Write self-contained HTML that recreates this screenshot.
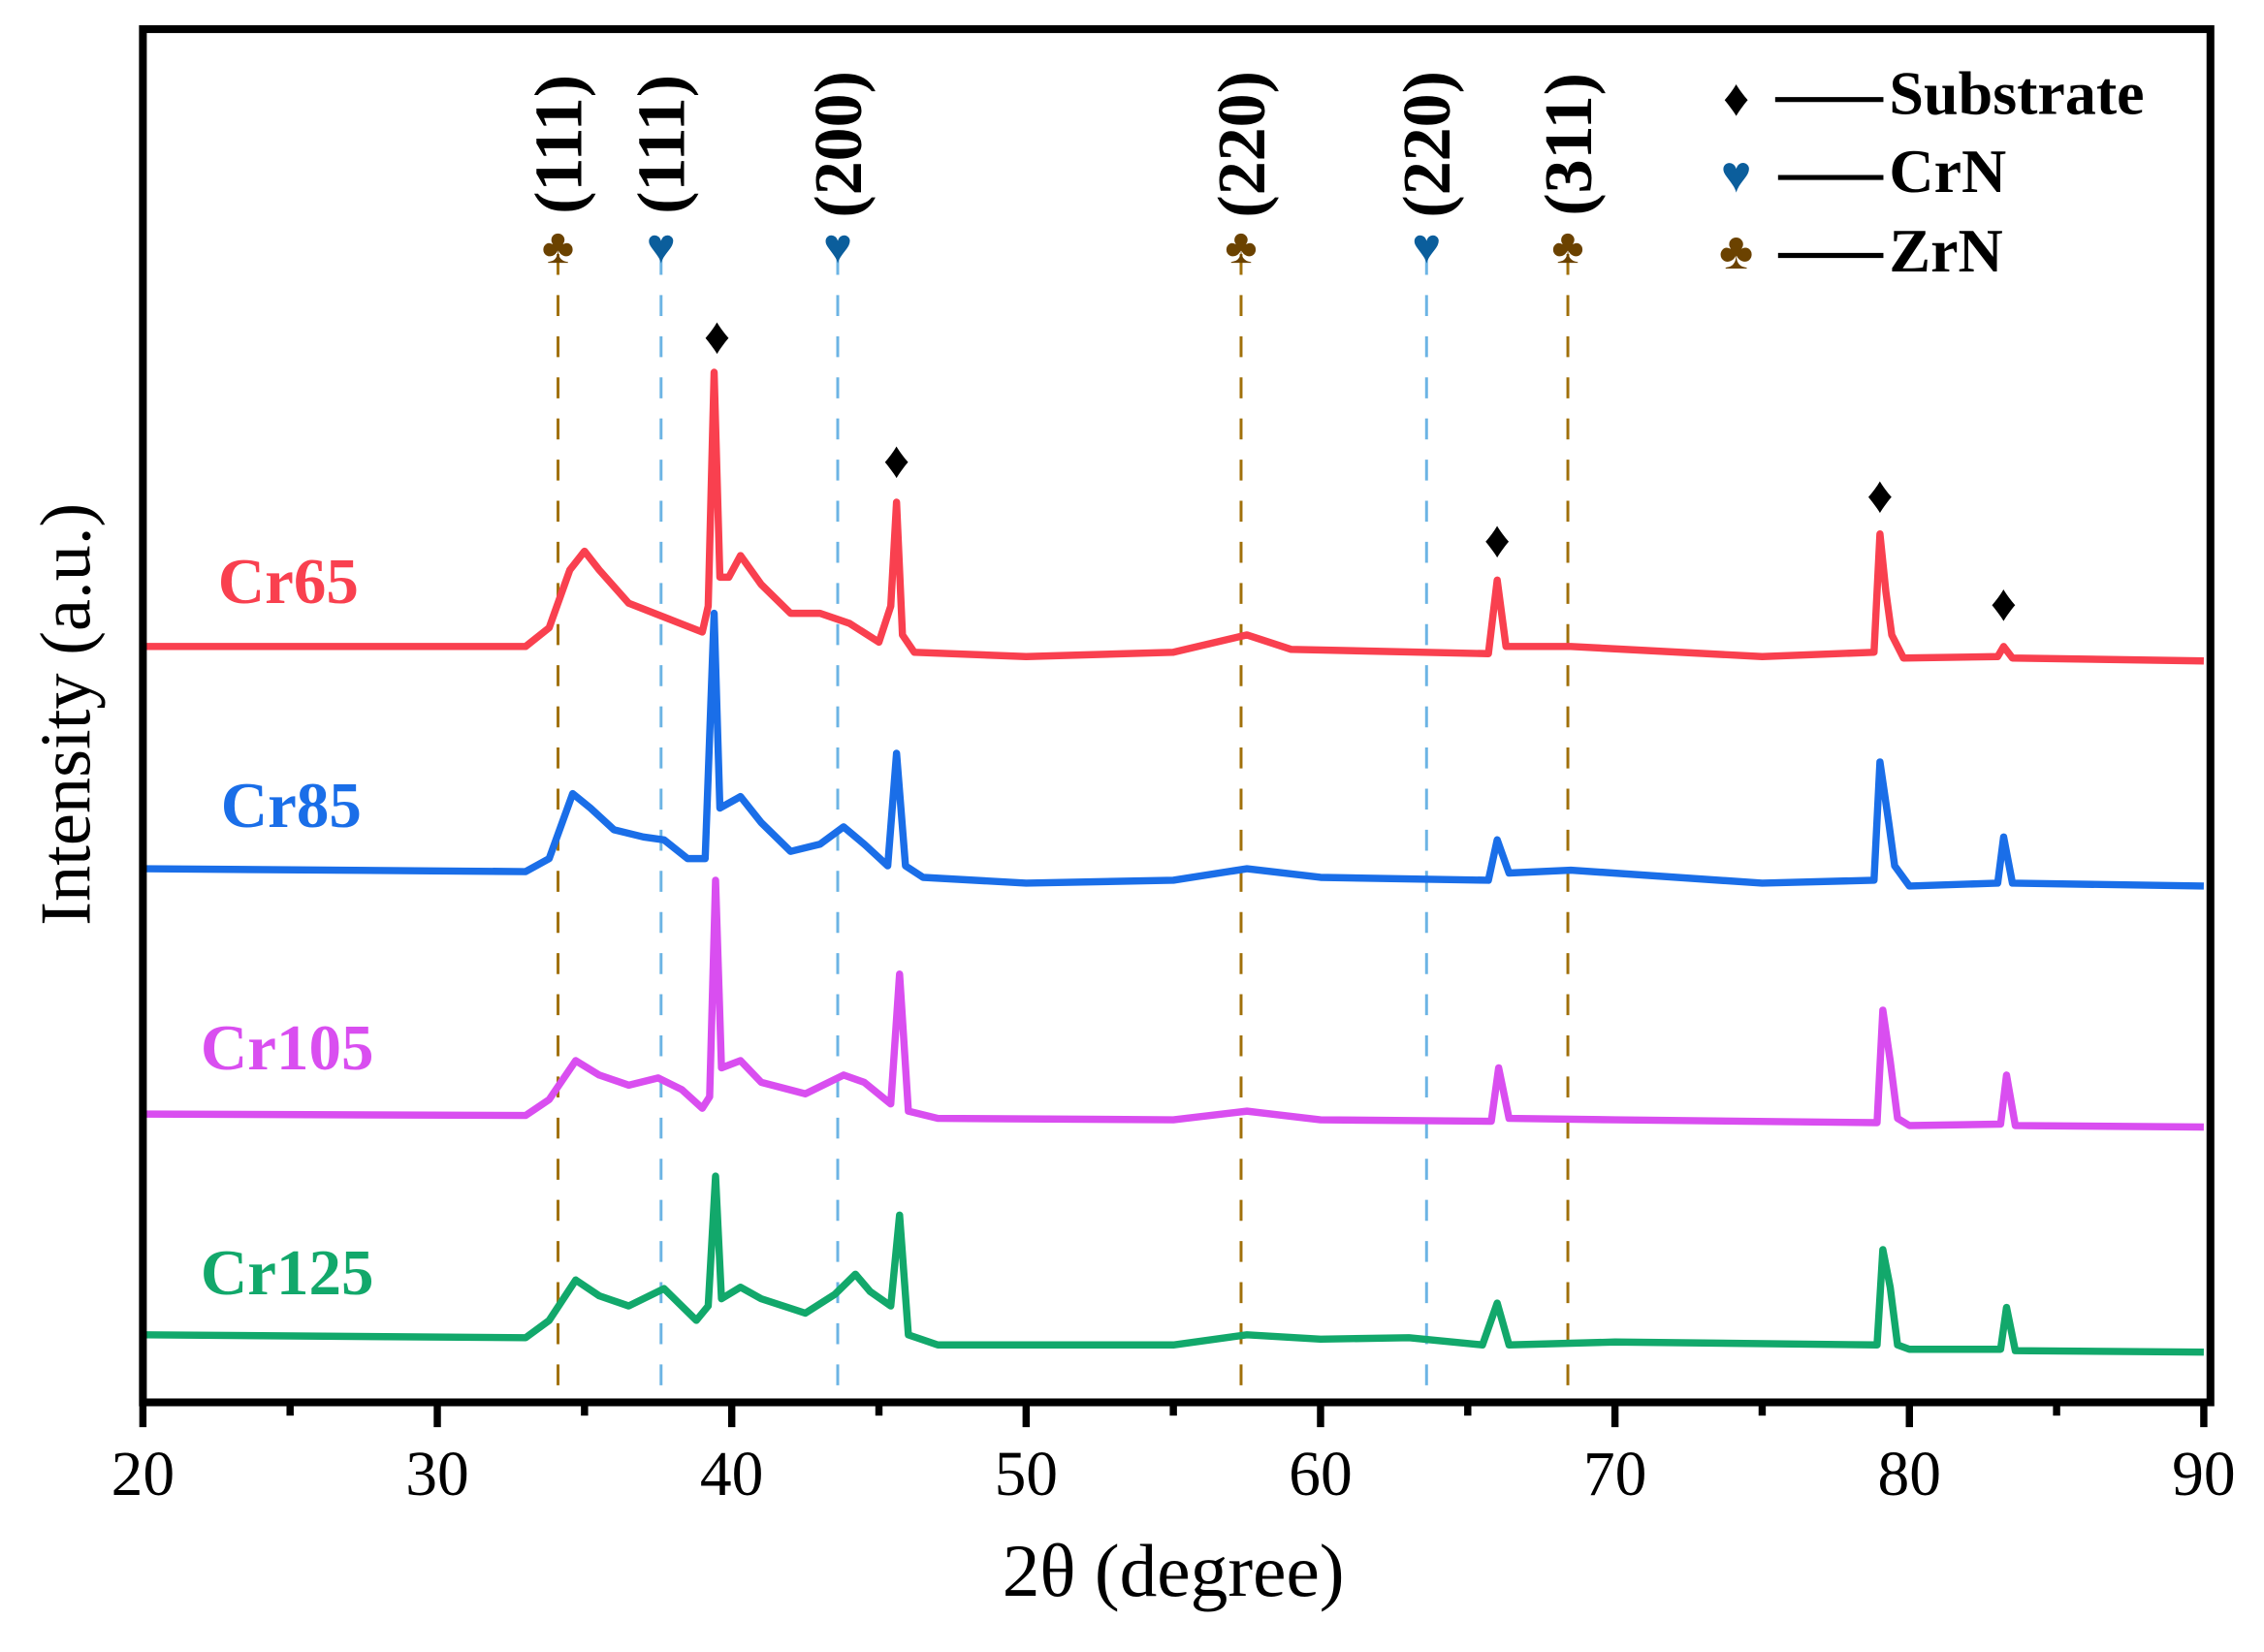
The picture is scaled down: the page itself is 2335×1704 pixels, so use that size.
<!DOCTYPE html>
<html><head><meta charset="utf-8"><style>
html,body{margin:0;padding:0;background:#fff}
svg{display:block}
text{font-family:"Liberation Serif",serif}
</style></head><body>
<svg id="chart" width="2335" height="1704" viewBox="0 0 1568.7 1144.8" xmlns="http://www.w3.org/2000/svg">
<g id="refs"></g>
<g id="series"></g>
<g id="marks"></g>
<rect x="99" y="20.2" width="1432.6" height="951.6" fill="none" stroke="#000" stroke-width="5.4"/>
<g id="ticks"></g>
<text x="813" y="1106" font-size="52" text-anchor="middle">2θ (degree)</text>
<text transform="translate(62,495) rotate(-90)" font-size="50" text-anchor="middle">Intensity (a.u.)</text>
<g font-weight="bold" font-size="43">
<text x="1203" y="80" font-size="36" text-anchor="middle">♦</text>
<line x1="1230" y1="69" x2="1305" y2="69" stroke="#000" stroke-width="3.5"/>
<text x="1309" y="79">Substrate</text>
<text x="1203" y="133" font-size="36" fill="#0b5e9c" text-anchor="middle">♥</text>
<line x1="1232" y1="123" x2="1305" y2="123" stroke="#000" stroke-width="3.5"/>
<text x="1309" y="133">CrN</text>
<text x="1203" y="186" font-size="36" fill="#6b4200" text-anchor="middle">♣</text>
<line x1="1232" y1="177" x2="1305" y2="177" stroke="#000" stroke-width="3.5"/>
<text x="1309" y="188">ZrN</text>
</g>
<g font-weight="bold" font-size="45">
<text x="151" y="418" fill="#f9404f">Cr65</text>
<text x="153" y="573" fill="#1a6ee8">Cr85</text>
<text x="139" y="741" fill="#d94ef0">Cr105</text>
<text x="139" y="897" fill="#12a86b">Cr125</text>
</g>
</svg>
<script>
const xTicks=[20,30,40,50,60,70,80,90];
const xMinor=[25,35,45,55,65,75,85];
const refTheta=[34.1,37.6,43.6,57.3,63.6,68.4];
const refPhase=['ZrN','CrN','CrN','ZrN','CrN','ZrN'];
const refLabel=['(111)','(111)','(200)','(220)','(220)','(311)'];
const subTheta=[39.5,45.6,66.0,79.0,83.2];
const subLevel=[735,649,594,625,550];
const seriesNames=['Cr65','Cr85','Cr105','Cr125'];
const seriesColors=['#f9404f','#1a6ee8','#d94ef0','#12a86b'];
const cr65T=[20,33,33.8,34.5,35,35.5,36.5,38,39,39.2,39.4,39.6,39.9,40.3,41,42,43,44,45,45.4,45.6,45.8,46.2,50,55,57.5,59,65.7,66,66.3,68.5,75,78.8,79.0,79.2,79.4,79.8,83,83.2,83.5,90];
const cr65I=[520,520,533,573,586,573,550,538,530,548,710,568,568,583,563,543,543,536,523,548,620,528,516,513,516,528,518,515,566,520,520,513,516,598,558,528,512,513,520,512,510];
const cr85T=[20,33,33.8,34.6,35.2,36,37,37.7,38.5,39.1,39.4,39.6,40.3,41,42,43,43.8,44.5,45.3,45.6,45.9,46.5,50,55,57.5,60,65.7,66,66.4,68.5,75,78.8,79.0,79.3,79.5,80,83,83.2,83.5,90];
const cr85I=[366,364,373,418,408,393,388,386,373,373,543,408,416,398,378,383,395,383,368,446,368,360,356,358,366,360,358,386,363,365,356,358,440,398,368,354,356,388,356,354];
const cr105T=[20,33,33.8,34.7,35.5,36.5,37.5,38.3,39,39.25,39.45,39.65,40.3,41,42.5,43.8,44.5,45.4,45.7,46,47,55,57.5,60,65.8,66.05,66.4,70,78.9,79.1,79.35,79.6,80,83.1,83.3,83.6,90];
const cr105I=[196,195,206,233,223,216,221,213,200,208,358,228,233,218,210,223,218,203,293,198,193,192,198,192,191,228,193,192,190,268,233,193,188,189,223,188,187];
const cr125T=[20,33,33.8,34.7,35.5,36.5,37.7,38.3,38.8,39.2,39.45,39.65,40.3,41,42.5,43.5,44.2,44.7,45.4,45.7,46,47,55,57.5,60,63,65.5,66,66.4,70,78.9,79.1,79.35,79.6,80,83.1,83.3,83.6,90];
const cr125I=[43,41,53,81,70,63,75,63,53,63,153,68,76,68,58,71,85,73,63,126,43,36,36,43,40,41,36,65,36,38,36,102,76,36,33,33,62,32,31];
const allT=[cr65T,cr85T,cr105T,cr125T];
const allI=[cr65I,cr85I,cr105I,cr125I];
function xs(v){return 99+(v-20)*20.4;}
function ys(v){return 968-v;}
const NS='http://www.w3.org/2000/svg';
function mk(tag,attrs,parent){const e=document.createElementNS(NS,tag);for(const k in attrs)e.setAttribute(k,attrs[k]);parent.appendChild(e);return e;}
const refs=document.getElementById('refs');
refTheta.forEach((t,i)=>{
  const col=refPhase[i]==='ZrN'?'#a0700a':'#6cb4e4';
  const l=mk('line',{x1:xs(t),x2:xs(t),y1:176,y2:968,stroke:col,'stroke-width':2,'stroke-dasharray':'14.5,14'},refs);
  
  
  const s=mk('text',{x:xs(t),y:182,'font-size':34,'text-anchor':'middle',fill:refPhase[i]==='ZrN'?'#6b4200':'#0b5e9c'},refs);
  s.textContent=refPhase[i]==='ZrN'?'♣':'♥';
  
  
  const lb=mk('text',{transform:`translate(${xs(t)+16},${100}) rotate(-90)`,'font-size':47,'font-weight':'bold','text-anchor':'middle'},refs);
  lb.textContent=refLabel[i];
  
  
});
const sg=document.getElementById('series');
allT.forEach((T,si)=>{
  const pts=T.map((t,j)=>xs(t).toFixed(1)+','+ys(allI[si][j]).toFixed(1)).join(' ');
  const p=mk('polyline',{points:pts,fill:'none',stroke:seriesColors[si],'stroke-width':5,'stroke-linejoin':'round'},sg);
  
  
});
const mg=document.getElementById('marks');
subTheta.forEach((t,i)=>{
  const m=mk('text',{x:xs(t),y:ys(subLevel[i])+12,'font-size':36,'text-anchor':'middle'},mg);
  m.textContent='♦';
  
  
});
const tg=document.getElementById('ticks');
xTicks.forEach(t=>{
  const l=mk('line',{x1:xs(t),x2:xs(t),y1:970,y2:989,stroke:'#000','stroke-width':5},tg);
  
  
  const tx=mk('text',{x:xs(t),y:1036,'font-size':44,'text-anchor':'middle'},tg);
  tx.textContent=t;
  
  
});
xMinor.forEach(t=>{
  const l=mk('line',{x1:xs(t),x2:xs(t),y1:970,y2:981,stroke:'#000','stroke-width':5},tg);
  
  
});
</script>
</body></html>
